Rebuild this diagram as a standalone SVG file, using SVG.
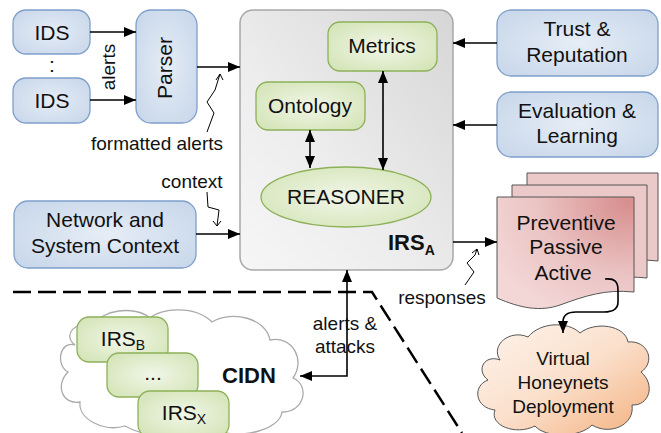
<svg xmlns="http://www.w3.org/2000/svg" width="661" height="433" viewBox="0 0 661 433">
<defs>
<marker id="arr" viewBox="0 0 12 10" refX="12" refY="5" markerWidth="12" markerHeight="10" markerUnits="userSpaceOnUse" orient="auto-start-reverse"><path d="M0,0 L12,5 L0,10 z" fill="#000"/></marker>
<radialGradient id="gBlue" cx="50%" cy="50%" r="65%"><stop offset="0" stop-color="#e6edf6"/><stop offset="1" stop-color="#c8d7ea"/></radialGradient>
<radialGradient id="gGreen" cx="50%" cy="50%" r="65%"><stop offset="0" stop-color="#f1f6e8"/><stop offset="1" stop-color="#d3e4b6"/></radialGradient>
<linearGradient id="gGrey" x1="1" y1="0" x2="0" y2="1"><stop offset="0" stop-color="#d6d6d6"/><stop offset="0.6" stop-color="#ededed"/><stop offset="1" stop-color="#f6f6f6"/></linearGradient>
<radialGradient id="gDoc" cx="95%" cy="5%" r="110%"><stop offset="0" stop-color="#d88e8e"/><stop offset="0.6" stop-color="#ebc4c4"/><stop offset="1" stop-color="#f3d6d6"/></radialGradient>
<linearGradient id="gCloud" x1="0" y1="0" x2="1" y2="1"><stop offset="0" stop-color="#fdf4ec"/><stop offset="0.5" stop-color="#fbe0cc"/><stop offset="1" stop-color="#f3b07e"/></linearGradient>
</defs>
<style>
text{font-family:"Liberation Sans",Arial,sans-serif;fill:#111;}
.n{font-size:21px;text-anchor:middle;}
.l{font-size:19px;text-anchor:middle;}
.b{font-weight:bold;}
.blue{fill:url(#gBlue);stroke:#7f9fca;stroke-width:1.3;}
.green{fill:url(#gGreen);stroke:#8db158;stroke-width:1.3;}
.c{fill:none;stroke:#000;stroke-width:1.6;}
.sq{fill:none;stroke:#000;stroke-width:1;}
.dash{fill:none;stroke:#000;stroke-width:2.5;stroke-dasharray:18 7;}
</style>

<g id="boundary"><path class="dash" d="M13 292 H372 L462 433"/></g>

<g id="ids1"><rect class="blue" x="13" y="10" width="77" height="44" rx="13"/><text class="n" x="52" y="40">IDS</text></g>
<g id="dots"><text class="n" x="52" y="72">:</text></g>
<g id="ids2"><rect class="blue" x="13" y="78" width="77" height="45" rx="13"/><text class="n" x="52" y="108">IDS</text></g>
<g id="parser"><rect class="blue" x="136" y="10" width="61" height="113" rx="15"/><text class="n" transform="translate(172,68) rotate(-90)">Parser</text></g>

<g id="irsA">
<rect x="240" y="10" width="213" height="260" rx="13" fill="url(#gGrey)" stroke="#a8a8a8" stroke-width="1.5"/>
<text class="b" x="388" y="250" font-size="22">IRS<tspan font-size="14" dy="5">A</tspan></text>
</g>
<g id="metrics"><rect class="green" x="328" y="22" width="109" height="49" rx="12"/><text class="n" x="382" y="53">Metrics</text></g>
<g id="ontology"><rect class="green" x="256" y="82" width="109" height="48" rx="12"/><text class="n" x="310" y="113">Ontology</text></g>
<g id="reasoner"><ellipse class="green" cx="346" cy="197" rx="85" ry="30"/><text class="n" x="346" y="204">REASONER</text></g>

<g id="trust"><rect class="blue" x="497" y="10" width="161" height="66" rx="14"/><text class="n" x="577" y="36">Trust &amp;</text><text class="n" x="577" y="62">Reputation</text></g>
<g id="eval"><rect class="blue" x="497" y="92" width="161" height="65" rx="14"/><text class="n" x="577" y="118">Evaluation &amp;</text><text class="n" x="577" y="143">Learning</text></g>
<g id="netctx"><rect class="blue" x="14" y="201" width="182" height="67" rx="14"/><text class="n" x="105" y="227">Network and</text><text class="n" x="105" y="253">System Context</text></g>

<g id="responses">
<path d="M527 173 H658 V261 C630 258 610 262 590 268 L527 268 Z" fill="#ecc9c9" stroke="#555" stroke-width="1"/>
<path d="M512 185 H647 V278 C620 275 600 280 580 286 L512 286 Z" fill="#ecc9c9" stroke="#555" stroke-width="1"/>
<path d="M497 197 H634 V292 C605 289 585 296 560 305 C540 312 520 308 497 298 Z" fill="url(#gDoc)" stroke="#555" stroke-width="1"/>
<text class="n" x="566" y="230">Preventive</text>
<text class="n" x="566" y="254">Passive</text>
<text class="n" x="563" y="280">Active</text>
</g>

<g id="honeynets">
<path d="M500 360 C490 345 510 329 528 337 C540 322 568 321 580 333 C595 321 625 325 628 342 C648 340 656 362 641 372 C656 385 649 406 632 405 C635 425 610 436 592 425 C580 438 545 438 535 426 C515 436 489 425 495 410 C475 408 472 386 488 380 C475 370 485 354 500 360 Z" fill="url(#gCloud)" stroke="#555" stroke-width="1"/>
<text class="l" x="563" y="365">Virtual</text>
<text class="l" x="563" y="389">Honeynets</text>
<text class="l" x="563" y="413">Deployment</text>
</g>

<g id="cidn">
<path d="M75 345 C60 340 55 365 68 372 C55 385 62 405 80 402 C78 420 105 432 125 426 C150 440 200 440 215 430 C240 440 280 430 282 412 C305 412 310 385 293 378 C306 360 292 335 270 340 C266 318 232 310 212 322 C195 305 160 308 150 318 C135 305 100 310 95 325 C75 320 62 335 75 345 Z" fill="#fff" stroke="#aaa" stroke-width="1.3"/>
<text class="b" x="249" y="383" font-size="22" text-anchor="middle">CIDN</text>
</g>
<g id="irsB"><rect class="green" x="77" y="317" width="91" height="45" rx="12"/><text x="123" y="346" font-size="21" text-anchor="middle">IRS<tspan font-size="14" dy="4">B</tspan></text></g>
<g id="irsDots"><rect class="green" x="107" y="353" width="91" height="44" rx="12"/><text class="n" x="153" y="380">...</text></g>
<g id="irsX"><rect class="green" x="138" y="391" width="91" height="46" rx="12"/><text x="184" y="420" font-size="21" text-anchor="middle">IRS<tspan font-size="14" dy="4">X</tspan></text></g>

<g id="connectors">
<line class="c" x1="90" y1="32" x2="136" y2="32" marker-end="url(#arr)"/>
<line class="c" x1="90" y1="100" x2="136" y2="100" marker-end="url(#arr)"/>
<line class="c" x1="197" y1="67" x2="240" y2="67" marker-end="url(#arr)"/>
<line class="c" x1="196" y1="234" x2="240" y2="234" marker-end="url(#arr)"/>
<line class="c" x1="497" y1="43" x2="453" y2="43" marker-end="url(#arr)"/>
<line class="c" x1="497" y1="125" x2="453" y2="125" marker-end="url(#arr)"/>
<line class="c" x1="453" y1="242" x2="497" y2="242" marker-end="url(#arr)"/>
<line class="c" x1="310" y1="130" x2="310" y2="168" marker-start="url(#arr)" marker-end="url(#arr)"/>
<line class="c" x1="383" y1="71" x2="383" y2="170" marker-start="url(#arr)" marker-end="url(#arr)"/>
<path class="c" d="M300 376 H347 V270" marker-start="url(#arr)" marker-end="url(#arr)"/>
<path class="c" d="M605 279 C615 278 618 282 618 290 L618 302 C618 309 613 312 604 312 L576 312 C567 312 563 316 563 322 L563 333" marker-end="url(#arr)"/>
<path class="sq" d="M207 132 L214 113 L207 102 L215 90 L220 74 M216 80 L220 74 L223 80"/>
<path class="sq" d="M207 192 L208 207 L219 210 L217 226 M213 221 L217 226 L221 221"/>
<path class="sq" d="M465 285 L474 272 L467 263 L475 255 L477 249 M472 253 L477 249 L479 255"/>
</g>

<g id="labels">
<text class="l" transform="translate(115,67) rotate(-90)">alerts</text>
<text class="l" x="157" y="150">formatted alerts</text>
<text class="l" x="192" y="188">context</text>
<text class="l" x="442" y="304">responses</text>
<text class="l" x="345" y="330" font-size="18.5">alerts &amp;</text>
<text class="l" x="345" y="353" font-size="18.5">attacks</text>
</g>
</svg>
